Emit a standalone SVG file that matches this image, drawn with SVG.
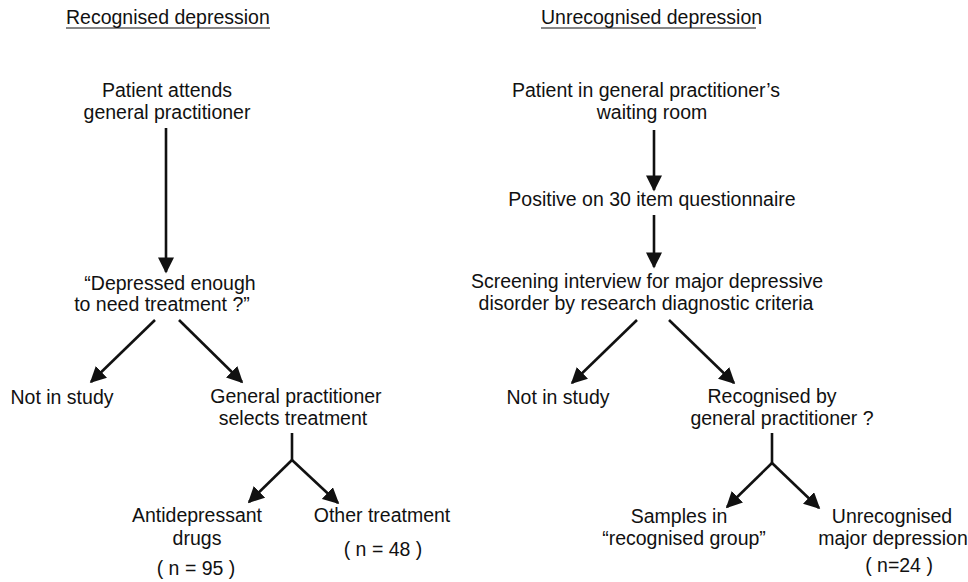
<svg xmlns="http://www.w3.org/2000/svg" width="968" height="582" viewBox="0 0 968 582">
<style>
text{font-family:"Liberation Sans",Arial,sans-serif;font-size:19.5px;fill:#111;text-anchor:middle}
.t{text-anchor:start}
.c{stroke:#111;stroke-width:2.6;fill:none}
.u{stroke:#111;stroke-width:1.2}
</style>
<defs>
<marker id="ah" viewBox="0 0 10 10" refX="9" refY="5" markerWidth="6.2" markerHeight="6.2" orient="auto" markerUnits="strokeWidth">
<path d="M0,0 L10,5 L0,10 z" fill="#111"/>
</marker>
</defs>
<rect width="968" height="582" fill="#fff"/>
<g id="title-left"><text class="t" x="66" y="24">Recognised depression</text><line class="u" x1="66" y1="28" x2="270" y2="28"/></g>
<g id="title-right"><text class="t" x="541" y="24">Unrecognised depression</text><line class="u" x1="541" y1="28" x2="756" y2="28"/></g>
<g id="n1"><text x="167" y="97">Patient attends</text><text x="167" y="119">general practitioner</text></g>
<g id="n2"><text x="170" y="290">“Depressed enough</text><text x="162" y="311">to need treatment ?”</text></g>
<g id="n3"><text x="62" y="404">Not in study</text></g>
<g id="n4"><text x="296" y="403">General practitioner</text><text x="293" y="425">selects treatment</text></g>
<g id="n5"><text x="197" y="522">Antidepressant</text><text x="197" y="545">drugs</text><text x="196" y="575">( n = 95 )</text></g>
<g id="n6"><text x="382" y="522">Other treatment</text><text x="383" y="556">( n = 48 )</text></g>
<g id="n7"><text x="646" y="97">Patient in general practitioner’s</text><text x="652" y="119">waiting room</text></g>
<g id="n8"><text x="652" y="206">Positive on 30 item questionnaire</text></g>
<g id="n9"><text x="647" y="288">Screening interview for major depressive</text><text x="646" y="310">disorder by research diagnostic criteria</text></g>
<g id="n10"><text x="558" y="404">Not in study</text></g>
<g id="n11"><text x="772" y="403">Recognised by</text><text x="782" y="425">general practitioner ?</text></g>
<g id="n12"><text x="679" y="523">Samples in</text><text x="684" y="545">“recognised group”</text></g>
<g id="n13"><text x="892" y="523">Unrecognised</text><text x="893" y="545">major depression</text><text x="899" y="572">( n=24 )</text></g>
<g id="connectors">
<line class="c" x1="166" y1="128" x2="166" y2="272" marker-end="url(#ah)"/>
<line class="c" x1="155" y1="320" x2="91" y2="382" marker-end="url(#ah)"/>
<line class="c" x1="179" y1="320" x2="242" y2="382" marker-end="url(#ah)"/>
<polyline class="c" points="292,433 292,460"/>
<line class="c" x1="292" y1="460" x2="249" y2="502" marker-end="url(#ah)"/>
<line class="c" x1="292" y1="460" x2="338" y2="503" marker-end="url(#ah)"/>
<line class="c" x1="654" y1="130" x2="654" y2="190" marker-end="url(#ah)"/>
<line class="c" x1="654" y1="215" x2="654" y2="267" marker-end="url(#ah)"/>
<line class="c" x1="637" y1="320" x2="572" y2="383" marker-end="url(#ah)"/>
<line class="c" x1="669" y1="320" x2="734" y2="383" marker-end="url(#ah)"/>
<polyline class="c" points="772,433 772,463"/>
<line class="c" x1="772" y1="463" x2="727" y2="507" marker-end="url(#ah)"/>
<line class="c" x1="772" y1="463" x2="819" y2="508" marker-end="url(#ah)"/>
</g>
</svg>
